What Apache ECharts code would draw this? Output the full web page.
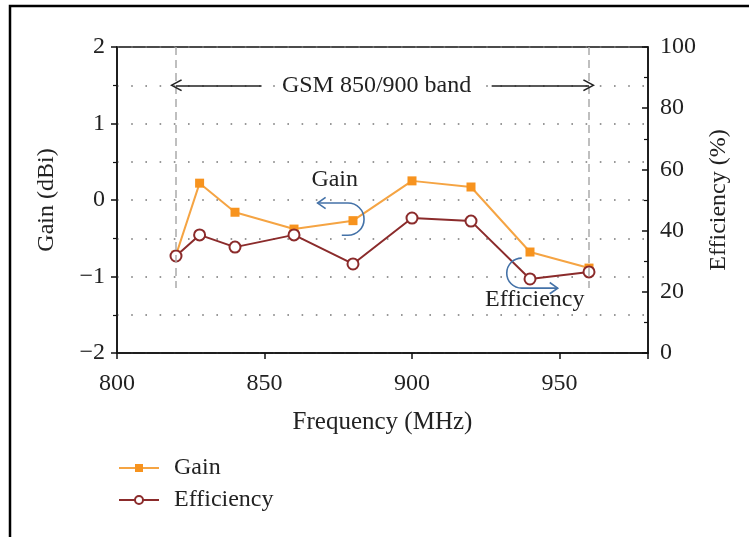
<!DOCTYPE html>
<html>
<head>
<meta charset="utf-8">
<script src="https://cdn.jsdelivr.net/npm/echarts@6/dist/echarts.min.js"></script>
<style>html,body{margin:0;padding:0;background:#fff;}#c{width:749px;height:537px;}</style>
</head>
<body>
<div id="c"></div>
<script>
// ---- data ----
var frequency = [820, 828, 840, 860, 880, 900, 920, 940, 960];
var gain = [-0.72, 0.22, -0.16, -0.38, -0.27, 0.25, 0.17, -0.68, -0.89];
var efficiency = [31.7, 38.6, 34.6, 38.6, 29.1, 44.1, 43.1, 24.2, 26.5];
var xTicks = [800, 850, 900, 950];
var gainTicks = [-2, -1, 0, 1, 2];
var effTicks = [0, 20, 40, 60, 80, 100];
var bandEdges = [820, 960];
var bandLabel = 'GSM 850/900 band';
var bandLabelAt = [888, 1.5];
var bandArrowLeft = [[849, 1.5], [820, 1.5]];
var bandArrowRight = [[927, 1.5], [960, 1.5]];
var bandLineBottom = -1.15;
var gainNote = {text: 'Gain', at: [873.8, 0.26], path: [[868, -0.04], [878.3, -0.04], [878.3, -0.46], [876.2, -0.46]]};
var effNote = {text: 'Efficiency', at: [941.6, 17.3], path: [[937.2, 31.0], [937.2, 21.2], [949.4, 21.2]]};

var FONT = '"Liberation Serif", "DejaVu Serif", serif';
var FS = 24;
var chevron = 'path://M0,0 L7,11 L5.6,11.8 L0,3 L-5.6,11.8 L-7,11 Z';

var gainPts = frequency.map(function (f, i) { return [f, gain[i]]; });
var effPts = frequency.map(function (f, i) { return [f, efficiency[i]]; });

function arrowHead(tip, dir, size) {
  var px = -dir[1], py = dir[0];
  return [
    [tip[0] - dir[0] * size + px * size * 0.7, tip[1] - dir[1] * size + py * size * 0.7],
    tip,
    [tip[0] - dir[0] * size - px * size * 0.7, tip[1] - dir[1] * size - py * size * 0.7]
  ];
}

var chart = echarts.init(document.getElementById('c'));
var option = {
  backgroundColor: '#fff',
  animation: false,
  textStyle: {fontFamily: FONT},
  grid: {left: 117, right: 101, top: 47, bottom: 184, show: true, borderColor: '#111', borderWidth: 1.5},
  legend: {
    data: ['Gain', 'Efficiency'],
    orient: 'vertical', left: 113, top: 451,
    itemWidth: 40, itemHeight: 10, itemGap: 8,
    textStyle: {fontFamily: FONT, fontSize: FS, color: '#222', padding: [0, 0, 0, 10]}
  },
  xAxis: {
    type: 'value', min: 800, max: 980, interval: 50,
    name: 'Frequency (MHz)', nameLocation: 'middle', nameGap: 57,
    nameTextStyle: {fontFamily: FONT, fontSize: 25, color: '#222'},
    axisLine: {onZero: false, lineStyle: {color: '#111', width: 1.5}},
    axisTick: {show: true, inside: false, length: 6, lineStyle: {color: '#111', width: 1.5}},
    axisLabel: {fontFamily: FONT, fontSize: FS, color: '#222', margin: 19,
      formatter: function (v) { return xTicks.indexOf(v) >= 0 ? String(v) : ''; }},
    splitLine: {show: false}
  },
  yAxis: [{
    type: 'value', min: -2, max: 2, interval: 1, position: 'left',
    name: 'Gain (dBi)', nameLocation: 'middle', nameGap: 58, nameRotate: 90,
    nameTextStyle: {fontFamily: FONT, fontSize: FS, color: '#222'},
    axisLine: {show: true, onZero: false, lineStyle: {color: '#111', width: 1.5}},
    axisTick: {show: true, inside: false, length: 6, lineStyle: {color: '#111', width: 1.5}},
    minorTick: {show: true, splitNumber: 2, length: 4, lineStyle: {color: '#111', width: 1.2}},
    axisLabel: {fontFamily: FONT, fontSize: FS, color: '#222', margin: 12,
      formatter: function (v) { return gainTicks.indexOf(v) >= 0 ? (v < 0 ? '\u2212' + Math.abs(v) : String(v)) : ''; }},
    splitLine: {show: true, lineStyle: {color: '#777', width: 1.6, type: [1.6, 12.6]}},
    minorSplitLine: {show: true, lineStyle: {color: '#777', width: 1.6, type: [1.6, 12.6]}}
  }, {
    type: 'value', min: 0, max: 100, interval: 20, position: 'right',
    name: 'Efficiency (%)', nameLocation: 'middle', nameGap: 54, nameRotate: 90,
    nameTextStyle: {fontFamily: FONT, fontSize: FS, color: '#222'},
    axisLine: {show: true, onZero: false, lineStyle: {color: '#111', width: 1.5}},
    axisTick: {show: true, inside: true, length: 6, lineStyle: {color: '#111', width: 1.5}},
    minorTick: {show: true, splitNumber: 2, length: 4, lineStyle: {color: '#111', width: 1.2}},
    axisLabel: {fontFamily: FONT, fontSize: FS, color: '#222', margin: 12,
      formatter: function (v) { return effTicks.indexOf(v) >= 0 ? String(v) : ''; }},
    splitLine: {show: false}
  }],
  series: [{
    name: 'Gain', type: 'line', yAxisIndex: 0, data: gainPts,
    symbol: 'rect', symbolSize: 9, z: 3,
    lineStyle: {color: '#f5a443', width: 2},
    itemStyle: {color: '#f7931e'},
    markLine: {
      silent: true, symbol: ['none', 'none'], label: {show: false},
      lineStyle: {color: '#aaa', type: [8, 5], width: 1.5},
      data: bandEdges.map(function (e) { return [{coord: [e, 2]}, {coord: [e, bandLineBottom]}]; })
    },
    markPoint: {
      silent: true, symbol: 'rect', symbolSize: 1, itemStyle: {color: 'rgba(0,0,0,0)'},
      label: {show: true, position: 'inside', fontFamily: FONT, fontSize: FS, color: '#222',
        backgroundColor: '#fff', padding: [0, 4]},
      data: [{coord: bandLabelAt, label: {formatter: bandLabel}}]
    }
  }, {
    name: 'Efficiency', type: 'line', yAxisIndex: 1, data: effPts,
    symbol: 'emptyCircle', symbolSize: 11, z: 4,
    lineStyle: {color: '#8b2b2b', width: 2},
    itemStyle: {color: '#8b2b2b', borderWidth: 1.6}
  }, {
    name: 'bandArrows', type: 'line', yAxisIndex: 0, data: [],
    markLine: {
      silent: true, symbol: ['none', chevron], symbolSize: [12, 12], label: {show: false},
      lineStyle: {color: '#222', type: 'solid', width: 1.6},
      itemStyle: {color: '#222'},
      data: [
        [{coord: bandArrowLeft[0]}, {coord: bandArrowLeft[1]}],
        [{coord: bandArrowRight[0]}, {coord: bandArrowRight[1]}]
      ]
    }
  }, {
    name: 'gainNote', type: 'custom', yAxisIndex: 0, data: [[0]], z: 5, silent: true,
    renderItem: function (params, api) {
      var p = gainNote.path.map(function (d) { return api.coord(d); });
      var r = (p[2][1] - p[1][1]) / 2;
      var t = api.coord(gainNote.at);
      var head = arrowHead(p[0], [-1, 0], 8);
      return {type: 'group', children: [
        {type: 'path', shape: {pathData: 'M' + p[0][0] + ',' + p[0][1] + ' L' + p[1][0] + ',' + p[1][1] +
          ' A' + r + ',' + r + ' 0 0 1 ' + p[2][0] + ',' + p[2][1] + ' L' + p[3][0] + ',' + p[3][1]},
          style: {fill: null, stroke: '#4472a8', lineWidth: 1.6}},
        {type: 'polyline', shape: {points: head}, style: {fill: null, stroke: '#4472a8', lineWidth: 1.6}},
        {type: 'text', x: t[0], y: t[1], style: {text: gainNote.text, fontFamily: FONT, fontSize: FS, fill: '#222', align: 'center', verticalAlign: 'middle'}}
      ]};
    }
  }, {
    name: 'effNote', type: 'custom', yAxisIndex: 1, data: [[0]], z: 5, silent: true,
    renderItem: function (params, api) {
      var p = effNote.path.map(function (d) { return api.coord(d); });
      var r = (p[1][1] - p[0][1]) / 2;
      var t = api.coord(effNote.at);
      var head = arrowHead(p[2], [1, 0], 8);
      return {type: 'group', children: [
        {type: 'path', shape: {pathData: 'M' + p[0][0] + ',' + p[0][1] +
          ' A' + r + ',' + r + ' 0 0 0 ' + p[1][0] + ',' + p[1][1] + ' L' + p[2][0] + ',' + p[2][1]},
          style: {fill: null, stroke: '#4472a8', lineWidth: 1.6}},
        {type: 'polyline', shape: {points: head}, style: {fill: null, stroke: '#4472a8', lineWidth: 1.6}},
        {type: 'text', x: t[0], y: t[1], style: {text: effNote.text, fontFamily: FONT, fontSize: FS, fill: '#222', align: 'center', verticalAlign: 'middle'}}
      ]};
    }
  }],
  graphic: [{
    type: 'polyline', silent: true,
    shape: {points: [[10, 537], [10, 6], [749, 6]]},
    style: {fill: null, stroke: '#000', lineWidth: 2.5}
  }]
};
chart.setOption(option);
</script>
</body>
</html>
